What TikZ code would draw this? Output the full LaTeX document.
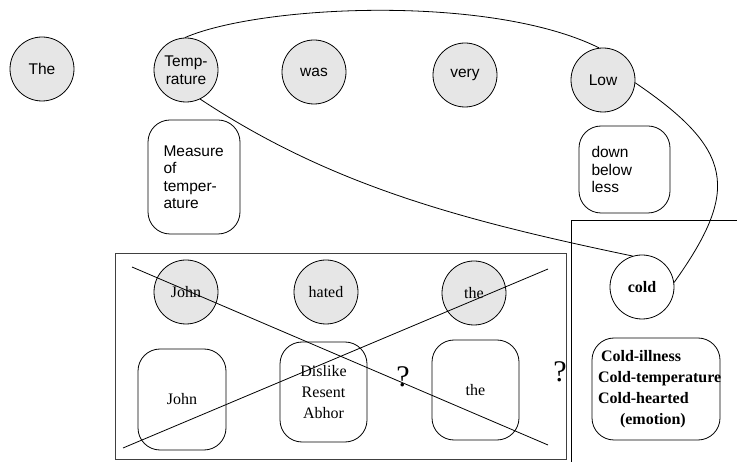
\documentclass[tikz,border=0pt]{standalone}
\usepackage{fontspec}
\setmainfont{Liberation Serif}
\setsansfont{Liberation Sans}
\definecolor{wordgray}{HTML}{E6E6E6}
\newcommand\sansf{\sffamily\fontsize{15.5}{17.5}\selectfont}
\newcommand\serf{\rmfamily\fontsize{16}{21}\selectfont}
\newcommand\bserf{\rmfamily\bfseries\fontsize{16}{21}\selectfont}
\begin{document}
\begin{tikzpicture}[x=1pt,y=-1pt,line width=0.8pt,
  word/.style={circle, draw, fill=wordgray, minimum size=64pt, inner sep=0pt, font=\sansf, align=center},
  sense/.style={draw, rounded corners=22pt, inner sep=0pt},
  qmark/.style={font=\rmfamily\fontsize{30}{30}\selectfont, inner sep=0pt}]
\useasboundingbox (0,0) rectangle (737,462);
% top sentence
\node[word] (the) at (42,69) {The};
\node[word] (temp) at (186,70) {Temp-\\rature};
\node[word] (was) at (314,72) {was};
\node[word] (very) at (465,75) {very};
\node[word] (low) at (603,80) {Low};
\node[sense, minimum width=92pt, minimum height=114pt, text width=61pt, align=left, font=\sansf] (measure) at (194,177) {Measure\\of\\temper-\\ature};
\node[sense, minimum width=91pt, minimum height=87pt, text width=66pt, align=left, font=\sansf] (down) at (624.5,169.5) {down\\below\\less};
% frame with crossed sentence
\node[draw=black!75, minimum width=451pt, minimum height=206pt, inner sep=0pt] (frame) at (340.5,356) {};
\node[word, font=\serf] (john) at (186,292) {John};
\node[word, font=\serf] (hated) at (326,292) {hated};
\node[word, font=\serf] (thec) at (474,293) {the};
\node[sense, minimum width=88pt, minimum height=101pt, font=\serf] (johnb) at (182,399.5) {John};
\node[sense, minimum width=87pt, minimum height=100pt, font=\serf, align=center] (dislike) at (323.5,392) {Dislike\\Resent\\Abhor};
\node[sense, minimum width=87pt, minimum height=100pt, font=\serf] (theb) at (475.5,390) {the};
\coordinate (c1a) at (132,267);
\coordinate (c1b) at (548,445);
\coordinate (c2a) at (123,448);
\coordinate (c2b) at (548,269);
\draw (c1a) -- (c1b);
\draw (c2a) -- (c2b);
\node[qmark] (q1) at (403,377) {?};
\node[qmark] (q2) at (560,372) {?};
% right bracket
\coordinate (ba) at (571,462);
\coordinate (bb) at (571,220);
\coordinate (bc) at (737,220);
\draw (ba) -- (bb) -- (bc);
\node[word, fill=white, font=\bserf] (cold) at (642,287) {cold};
\node[sense, minimum width=128pt, minimum height=102pt, text width=116pt, align=left, font=\bserf] (coldb) at (656,389) {\hspace*{3pt}\mbox{Cold-illness}\\\hspace*{0pt}\mbox{Cold-temperature}\\\mbox{Cold-hearted}\\\hspace*{22pt}(emotion)};
% connectors
\draw (temp.92) .. controls (260,5) and (490,-6) .. (low.97);
\draw (temp.-64) .. controls (330,185) and (460,220) .. (cold.107);
\draw (low.-5) .. controls (734,150) and (740,190) .. (cold.8);
\end{tikzpicture}
\end{document}
